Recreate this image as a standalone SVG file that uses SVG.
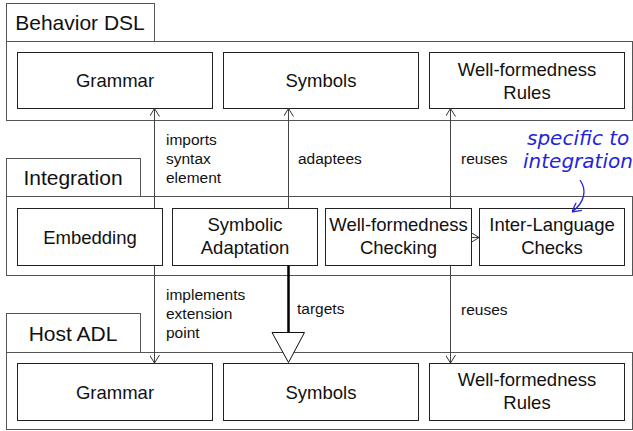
<svg xmlns="http://www.w3.org/2000/svg" width="633" height="431" viewBox="0 0 633 431">
<defs>
<style>
.pkg{fill:#fff;stroke:#555;stroke-width:1}
.box{fill:#fff;stroke:#222;stroke-width:1}
.tab{font-family:"Liberation Sans",Arial,sans-serif;font-size:21px;fill:#111;text-anchor:middle}
.bt{font-family:"Liberation Sans",Arial,sans-serif;font-size:18.5px;fill:#111;text-anchor:middle}
.lbl{font-family:"Liberation Sans",Arial,sans-serif;font-size:15.5px;fill:#111}
.con{fill:none;stroke:#444;stroke-width:1}
.note{font-family:"DejaVu Sans",sans-serif;font-style:italic;font-size:20px;fill:#2424dc}
</style>
<marker id="open" viewBox="0 0 10 10" refX="10" refY="5" markerWidth="10" markerHeight="10" markerUnits="userSpaceOnUse" orient="auto">
<path d="M2,0 L10,5 L2,10" fill="none" stroke="#333" stroke-width="1"/>
</marker>
<marker id="blue" viewBox="0 0 10 10" refX="10" refY="5" markerWidth="10" markerHeight="10" markerUnits="userSpaceOnUse" orient="auto">
<path d="M1,0 L10,5 L1,10" fill="none" stroke="#2424dc" stroke-width="1.3"/>
</marker>
</defs>

<g id="pkg-behavior-dsl">
<rect class="pkg" x="6.5" y="3.5" width="148" height="38"/>
<rect class="pkg" x="6.5" y="41.5" width="626" height="79"/>
<text class="tab" x="80" y="30">Behavior DSL</text>
</g>
<g id="pkg-integration">
<rect class="pkg" x="6.5" y="158.5" width="134" height="38"/>
<rect class="pkg" x="6.5" y="196.5" width="626" height="79"/>
<text class="tab" x="73" y="185">Integration</text>
</g>
<g id="pkg-host-adl">
<rect class="pkg" x="6.5" y="313.5" width="134" height="39"/>
<rect class="pkg" x="6.5" y="352.5" width="626" height="77"/>
<text class="tab" x="73" y="341">Host ADL</text>
</g>

<g id="bdsl-grammar"><rect class="box" x="17.5" y="52.5" width="195" height="56"/><text class="bt" x="115" y="87">Grammar</text></g>
<g id="bdsl-symbols"><rect class="box" x="223.5" y="52.5" width="195" height="56"/><text class="bt" x="321" y="87">Symbols</text></g>
<g id="bdsl-wfr"><rect class="box" x="429.5" y="52.5" width="195" height="56"/><text class="bt" x="527" y="75.5">Well-formedness</text><text class="bt" x="527" y="98.5">Rules</text></g>

<g id="int-embedding"><rect class="box" x="17.5" y="208.5" width="145" height="57"/><text class="bt" x="90" y="243.5">Embedding</text></g>
<g id="int-symbolic"><rect class="box" x="172.5" y="208.5" width="145" height="57"/><text class="bt" x="245" y="231">Symbolic</text><text class="bt" x="245" y="254">Adaptation</text></g>
<g id="int-wfc"><rect class="box" x="325.5" y="208.5" width="146" height="57"/><text class="bt" x="398.5" y="231">Well-formedness</text><text class="bt" x="398.5" y="254">Checking</text></g>
<g id="int-ilc"><rect class="box" x="479.5" y="208.5" width="145" height="57"/><text class="bt" x="552" y="231">Inter-Language</text><text class="bt" x="552" y="254">Checks</text></g>

<g id="host-grammar"><rect class="box" x="17.5" y="363.5" width="195" height="57"/><text class="bt" x="115" y="398.5">Grammar</text></g>
<g id="host-symbols"><rect class="box" x="223.5" y="363.5" width="195" height="57"/><text class="bt" x="321" y="398.5">Symbols</text></g>
<g id="host-wfr"><rect class="box" x="429.5" y="363.5" width="195" height="57"/><text class="bt" x="527" y="386">Well-formedness</text><text class="bt" x="527" y="409">Rules</text></g>

<g id="connectors">
<path class="con" d="M154.5,208 V108.5" marker-end="url(#open)"/>
<path class="con" d="M154.5,265.5 V363" marker-end="url(#open)"/>
<path class="con" d="M288.5,208 V108.5" marker-end="url(#open)"/>
<path d="M288.5,265.5 V332" fill="none" stroke="#000" stroke-width="2.5"/>
<path d="M272,332.5 H304.5 L288.5,362.5 Z" fill="#fff" stroke="#111" stroke-width="1"/>
<path class="con" d="M450.5,208 V108.5" marker-end="url(#open)"/>
<path class="con" d="M450.5,265.5 V363" marker-end="url(#open)"/>
<path class="con" d="M471.5,237.5 H479" marker-end="url(#open)"/>
<text class="lbl" x="166" y="144.5">imports</text>
<text class="lbl" x="166" y="163.5">syntax</text>
<text class="lbl" x="166" y="182.5">element</text>
<text class="lbl" x="298" y="163.5">adaptees</text>
<text class="lbl" x="461" y="163.5">reuses</text>
<text class="lbl" x="166" y="300">implements</text>
<text class="lbl" x="166" y="319">extension</text>
<text class="lbl" x="166" y="338">point</text>
<text class="lbl" x="297" y="314">targets</text>
<text class="lbl" x="461" y="315">reuses</text>
</g>

<g id="note">
<text class="note" x="527" y="145">specific to</text>
<text class="note" x="523" y="168">integration</text>
<path d="M580,180 C587,190 585,202 572,212" fill="none" stroke="#2424dc" stroke-width="1.3" marker-end="url(#blue)"/>
</g>
</svg>
